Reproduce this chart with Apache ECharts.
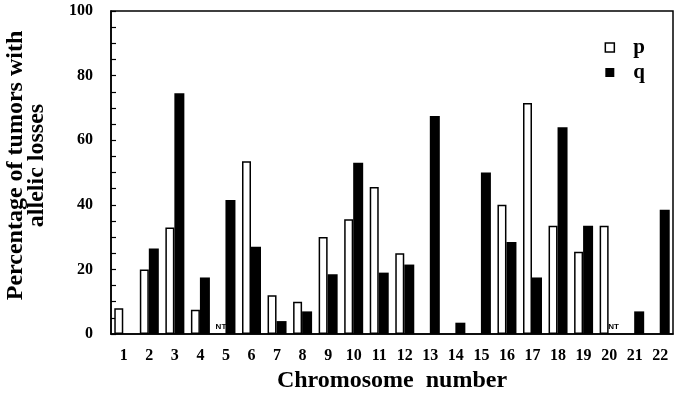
<!DOCTYPE html>
<html>
<head>
<meta charset="utf-8">
<script src="https://cdn.jsdelivr.net/npm/echarts@6/dist/echarts.min.js"></script>
<style>
html,body{margin:0;padding:0;background:#fff;}
#chart{width:680px;height:394px;}
</style>
</head>
<body>
<div id="chart"></div>
<script>
var chromosomes = ['1','2','3','4','5','6','7','8','9','10','11','12','13','14','15','16','17','18','19','20','21','22'];
var pLoss = [8, 20, 33, 7.5, null, 53.5, 12, 10, 30, 35.5, 45.5, 25, null, null, null, 40, 71.5, 33.5, 25.5, 33.5, null, null];
var qLoss = [null, 26.5, 74.5, 17.5, 41.5, 27, 4, 7, 18.5, 53, 19, 21.5, 67.5, 3.5, 50, 28.5, 17.5, 64, 33.5, null, 7, 38.5];
var notTested = [{chrom: '5', arm: 'p'}, {chrom: '20', arm: 'q'}];
var yTicks = [0, 20, 40, 60, 80, 100];

var FONT = 'Liberation Serif';

function buildData(values, arm) {
  return values.map(function (v, i) {
    var nt = notTested.some(function (n) { return n.chrom === chromosomes[i] && n.arm === arm; });
    if (nt) {
      return {
        value: 0,
        itemStyle: {borderWidth: 0, color: 'rgba(0,0,0,0)'},
        label: {show: true, position: 'top', formatter: 'NT', distance: 3,
                fontFamily: 'Liberation Sans', fontWeight: 'bold', fontSize: 8, color: '#000'}
      };
    }
    return v;
  });
}

var chart = echarts.init(document.getElementById('chart'));
chart.setOption({
  animation: false,
  backgroundColor: '#fff',
  grid: {left: 111, right: 7, top: 11, bottom: 60, outerBoundsMode: 'none', containLabel: false,
         show: true, borderColor: '#000', borderWidth: 1.5, backgroundColor: 'transparent'},
  legend: {
    orient: 'vertical',
    right: 30,
    top: 32,
    itemWidth: 9,
    itemHeight: 9,
    itemGap: 4,
    textStyle: {fontFamily: FONT, fontWeight: 'bold', fontSize: 21, color: '#000', padding: [0, 0, 0, 14]},
    data: [
      {name: 'p', icon: 'rect', itemStyle: {color: '#fff', borderColor: '#000', borderWidth: 1.5}},
      {name: 'q', icon: 'rect', itemStyle: {color: '#000'}}
    ]
  },
  xAxis: {
    type: 'category',
    data: chromosomes,
    axisLine: {lineStyle: {color: '#000', width: 1.5}},
    axisTick: {show: false},
    axisLabel: {color: '#000', fontFamily: FONT, fontWeight: 'bold', fontSize: 16, margin: 14, interval: 0},
    name: 'Chromosome  number',
    nameLocation: 'middle',
    nameGap: 35,
    nameTextStyle: {color: '#000', fontFamily: FONT, fontWeight: 'bold', fontSize: 24}
  },
  yAxis: {
    type: 'value',
    min: 0,
    max: 100,
    interval: 20,
    axisLine: {show: true, lineStyle: {color: '#000', width: 1.5}},
    axisTick: {show: true, inside: true, length: 5, lineStyle: {color: '#000', width: 1.2}},
    minorTick: {show: true, splitNumber: 4, length: 5, lineStyle: {color: '#000', width: 1.2}},
    splitLine: {show: false},
    axisLabel: {color: '#000', fontFamily: FONT, fontWeight: 'bold', fontSize: 16, margin: 18,
      formatter: function (v) { return yTicks.indexOf(v) >= 0 ? String(v) : ''; }},
    name: 'Percentage of tumors with\nallelic losses',
    nameLocation: 'middle',
    nameGap: 64,
    nameTextStyle: {color: '#000', fontFamily: FONT, fontWeight: 'bold', fontSize: 24, lineHeight: 21,
                    padding: [0, 0, 0, 14]}
  },
  series: [
    {
      name: 'p',
      type: 'bar',
      data: buildData(pLoss, 'p'),
      barWidth: 9,
      barGap: '0%',
      itemStyle: {color: '#fff', borderColor: '#000', borderWidth: 1.5}
    },
    {
      name: 'q',
      type: 'bar',
      data: buildData(qLoss, 'q'),
      barWidth: 10,
      itemStyle: {color: '#000'}
    }
  ]
});
</script>
</body>
</html>
